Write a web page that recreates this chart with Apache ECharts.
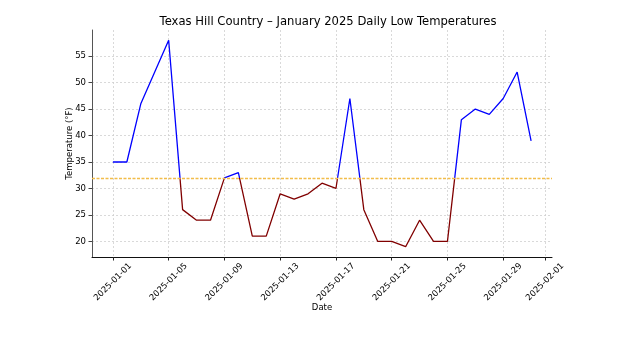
<!DOCTYPE html>
<html><head><meta charset="utf-8">
<script src="https://cdn.jsdelivr.net/npm/echarts@6/dist/echarts.min.js"></script>
<style>html,body{margin:0;padding:0;background:#fff}#c{width:617px;height:338px}</style>
</head><body><div id="c"></div>
<script>
const dates = ['2025-01-01','2025-01-02','2025-01-03','2025-01-04','2025-01-05','2025-01-06','2025-01-07','2025-01-08','2025-01-09','2025-01-10','2025-01-11','2025-01-12','2025-01-13','2025-01-14','2025-01-15','2025-01-16','2025-01-17','2025-01-18','2025-01-19','2025-01-20','2025-01-21','2025-01-22','2025-01-23','2025-01-24','2025-01-25','2025-01-26','2025-01-27','2025-01-28','2025-01-29','2025-01-30','2025-01-31'];
const lows = [35,35,46,52,58,26,24,24,32,33,21,21,29,28,29,31,30,47,26,20,20,19,24,20,20,43,45,44,47,52,39];
const xTicks = ['2025-01-01','2025-01-05','2025-01-09','2025-01-13','2025-01-17','2025-01-21','2025-01-25','2025-01-29','2025-02-01'];
const yTicks = [20,25,30,35,40,45,50,55];
const freezeLine = 32;

// day number counted from 2025-01-01 (= 0), via Date parsing in UTC
const DAY = 86400000;
const base = Date.UTC(2025,0,1);
const dayNum = s => { const [y,m,d] = s.split('-').map(Number); return (Date.UTC(y,m-1,d)-base)/DAY; };
const dayLabel = v => { const t = new Date(base + Math.round(v)*DAY); return t.toISOString().slice(0,10); };
const font = 'DejaVu Sans';
const fs = 8.5;
const chart = echarts.init(document.getElementById('c'), null, {renderer:'canvas'});
chart.setOption({
  animation:false,
  title:{text:'Texas Hill Country \u2013 January 2025 Daily Low Temperatures', left:323, top:11, textAlign:'center',
    textStyle:{fontFamily:font, fontSize:11.6, fontWeight:'normal', color:'#000'}},
  grid:{left:92, right:65, top:30, bottom:81},
  visualMap:{show:false, type:'piecewise', dimension:1, seriesIndex:0,
    pieces:[{gte:-100, lt:freezeLine, color:'#800000'},{gte:freezeLine, lte:200, color:'#0000ff'}]},
  xAxis:{type:'value', min:dayNum(dates[0])-1.5, max:dayNum('2025-02-01')+0.5,
    name:'Date', nameLocation:'middle', nameGap:46, nameMoveOverlap:false,
    nameTextStyle:{fontFamily:font, fontSize:fs, color:'#000'},
    axisLine:{onZero:false, lineStyle:{color:'#111', width:1}},
    axisTick:{show:true, length:3.5, lineStyle:{color:'#222'}, customValues:xTicks.map(dayNum)},
    axisLabel:{customValues:xTicks.map(dayNum), rotate:45, fontFamily:font, fontSize:fs, color:'#000', margin:25,
      align:'center', verticalAlign:'middle', formatter:dayLabel},
    splitLine:{show:true, lineStyle:{color:'#d0d0d0', type:[2,2], width:0.8}}},
  yAxis:{type:'value', min:17.05, max:59.95,
    name:'Temperature (\u00b0F)', nameLocation:'middle', nameGap:18, nameRotate:90, nameMoveOverlap:false,
    nameTextStyle:{fontFamily:font, fontSize:fs, color:'#000'},
    axisLine:{show:true, onZero:false, lineStyle:{color:'#555', width:1}},
    axisTick:{show:true, length:3.5, lineStyle:{color:'#444'}, customValues:yTicks},
    axisLabel:{customValues:yTicks, fontFamily:font, fontSize:fs, color:'#000', margin:6},
    splitLine:{show:true, lineStyle:{color:'#d0d0d0', type:[2,2], width:0.8}}},
  series:[{type:'line', data:dates.map((d,i)=>[dayNum(d),lows[i]]), showSymbol:false, symbol:'none',
    lineStyle:{width:1.3},
    markLine:{silent:true, symbol:'none', label:{show:false},
      lineStyle:{color:'#f2bd4a', type:[3,1.5], width:1.4},
      data:[{yAxis:freezeLine}]}}]
});
</script></body></html>
